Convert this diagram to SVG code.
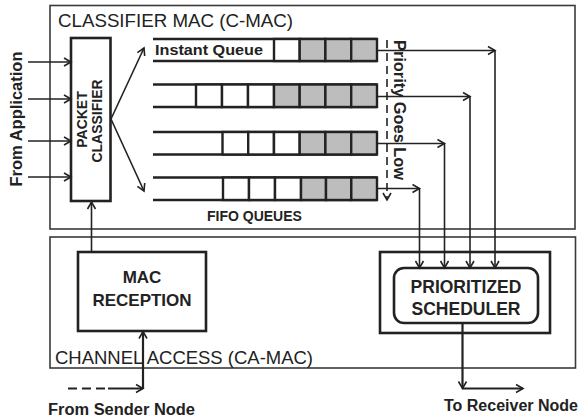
<svg xmlns="http://www.w3.org/2000/svg" width="581" height="420" viewBox="0 0 581 420">
<style>
  .frame { fill: none; stroke: #3a3a3a; stroke-width: 1.6; }
  .thick { fill: #fff; stroke: #222; stroke-width: 2.6; }
  .qline { fill: none; stroke: #222; stroke-width: 2.6; }
  .white { fill: #fff; stroke: #222; stroke-width: 2.4; }
  .gray { fill: #bdbdbd; stroke: #222; stroke-width: 2.4; }
  .conn { fill: none; stroke: #222; stroke-width: 1.6; }
  .conn2 { fill: none; stroke: #222; stroke-width: 2.2; }
  .t { font-family: "Liberation Sans", Arial, sans-serif; fill: #222; }
  .b { font-weight: bold; }
</style>
<defs>
  <marker id="arr" markerUnits="userSpaceOnUse" markerWidth="10" markerHeight="10" refX="7.5" refY="4.5" orient="auto" overflow="visible">
    <path d="M0.5,0.5 L7.5,4.5 L0.5,8.5" fill="none" stroke="#222" stroke-width="1.6"/>
  </marker>
</defs>

<g id="classifier-mac">
  <rect class="frame" x="50" y="5.5" width="525" height="223.5"/>
  <text class="t" x="58" y="26.5" font-size="18.5" textLength="235" lengthAdjust="spacingAndGlyphs">CLASSIFIER MAC (C-MAC)</text>
</g>

<g id="channel-access">
  <rect class="frame" x="50" y="237" width="525.5" height="131"/>
  <text class="t" x="55" y="363.5" font-size="18.5" textLength="258" lengthAdjust="spacingAndGlyphs">CHANNEL ACCESS (CA-MAC)</text>
</g>

<g id="from-application">
  <text class="t b" transform="translate(22,119) rotate(-90)" font-size="17" text-anchor="middle" textLength="135" lengthAdjust="spacingAndGlyphs">From Application</text>
</g>

<g id="packet-classifier">
  <rect class="thick" x="71" y="38" width="39.5" height="163"/>
  <text class="t b" transform="translate(87,119.5) rotate(-90)" font-size="14" text-anchor="middle">PACKET</text>
  <text class="t b" transform="translate(102,121) rotate(-90)" font-size="14" text-anchor="middle">CLASSIFIER</text>
</g>

<g id="queue-instant">
  <path class="qline" d="M153,39 H377 M153,61 H377"/>
  <text class="t b" x="155" y="55" font-size="15" textLength="108" lengthAdjust="spacingAndGlyphs">Instant Queue</text>
  <rect class="white" x="274" y="39" width="25.7" height="22"/>
  <rect class="gray" x="299.7" y="39" width="25.7" height="22"/>
  <rect class="gray" x="325.4" y="39" width="25.8" height="22"/>
  <rect class="gray" x="351.2" y="39" width="25.8" height="22"/>
</g>

<g id="queue-2">
  <path class="qline" d="M153,84.5 H377 M153,107 H377"/>
  <rect class="white" x="196" y="84.5" width="26" height="22.5"/>
  <rect class="white" x="222" y="84.5" width="26" height="22.5"/>
  <rect class="white" x="248" y="84.5" width="26" height="22.5"/>
  <rect class="gray" x="274" y="84.5" width="25.7" height="22.5"/>
  <rect class="gray" x="299.7" y="84.5" width="25.7" height="22.5"/>
  <rect class="gray" x="325.4" y="84.5" width="25.8" height="22.5"/>
  <rect class="gray" x="351.2" y="84.5" width="25.8" height="22.5"/>
</g>

<g id="queue-3">
  <path class="qline" d="M153,132 H377 M153,154.5 H377"/>
  <rect class="white" x="222.5" y="132" width="25.7" height="22.5"/>
  <rect class="white" x="248.2" y="132" width="25.7" height="22.5"/>
  <rect class="white" x="274" y="132" width="25.7" height="22.5"/>
  <rect class="gray" x="299.7" y="132" width="25.7" height="22.5"/>
  <rect class="gray" x="325.4" y="132" width="25.8" height="22.5"/>
  <rect class="gray" x="351.2" y="132" width="25.8" height="22.5"/>
</g>

<g id="queue-4">
  <path class="qline" d="M153,177.5 H377 M153,200 H377"/>
  <rect class="white" x="223" y="177.5" width="26" height="22.5"/>
  <rect class="white" x="249" y="177.5" width="26" height="22.5"/>
  <rect class="white" x="275" y="177.5" width="26" height="22.5"/>
  <rect class="gray" x="301" y="177.5" width="25" height="22.5"/>
  <rect class="gray" x="326" y="177.5" width="25.3" height="22.5"/>
  <rect class="gray" x="351.3" y="177.5" width="25.7" height="22.5"/>
  <text class="t b" x="207" y="221" font-size="14">FIFO QUEUES</text>
</g>

<g id="priority">
  <text class="t b" transform="translate(394,40) rotate(90)" font-size="16" textLength="140" lengthAdjust="spacingAndGlyphs">Priority Goes Low</text>
</g>

<g id="mac-reception">
  <rect class="thick" x="78" y="252" width="128" height="79"/>
  <text class="t b" x="142" y="283" font-size="17" text-anchor="middle">MAC</text>
  <text class="t b" x="142" y="306" font-size="17" text-anchor="middle">RECEPTION</text>
</g>

<g id="scheduler">
  <rect class="thick" x="380" y="252" width="170" height="81"/>
  <rect class="thick" x="394" y="268" width="144" height="55" rx="10"/>
  <text class="t b" x="466" y="293" font-size="17.5" text-anchor="middle">PRIORITIZED</text>
  <text class="t b" x="466" y="315" font-size="17.5" text-anchor="middle">SCHEDULER</text>
</g>

<g id="connectors">
  <line class="conn" x1="28" y1="62" x2="71" y2="62" marker-end="url(#arr)"/>
  <line class="conn" x1="28" y1="99" x2="71" y2="99" marker-end="url(#arr)"/>
  <line class="conn" x1="28" y1="141" x2="71" y2="141" marker-end="url(#arr)"/>
  <line class="conn" x1="28" y1="177" x2="71" y2="177" marker-end="url(#arr)"/>
  <line class="conn" x1="111" y1="119" x2="144" y2="48" marker-end="url(#arr)"/>
  <line class="conn" x1="111" y1="119" x2="144" y2="191" marker-end="url(#arr)"/>
  <line class="conn" x1="91.5" y1="252" x2="91.5" y2="202" marker-end="url(#arr)"/>
  <line class="conn" x1="387" y1="40" x2="387" y2="200" stroke-dasharray="8,5" marker-end="url(#arr)"/>
  <line class="conn" x1="377" y1="50.5" x2="495" y2="50.5" marker-end="url(#arr)"/>
  <line class="conn" x1="495" y1="50.5" x2="495" y2="268" marker-end="url(#arr)"/>
  <line class="conn" x1="377" y1="96.5" x2="470" y2="96.5" marker-end="url(#arr)"/>
  <line class="conn" x1="470" y1="96.5" x2="470" y2="268" marker-end="url(#arr)"/>
  <line class="conn" x1="377" y1="143.5" x2="444.5" y2="143.5" marker-end="url(#arr)"/>
  <line class="conn" x1="444.5" y1="143.5" x2="444.5" y2="268" marker-end="url(#arr)"/>
  <line class="conn" x1="377" y1="188.5" x2="419.5" y2="188.5" marker-end="url(#arr)"/>
  <line class="conn" x1="419.5" y1="188.5" x2="419.5" y2="268" marker-end="url(#arr)"/>
  <line class="conn2" x1="462.5" y1="323" x2="462.5" y2="388.5" marker-end="url(#arr)"/>
  <line class="conn2" x1="462.5" y1="388.5" x2="523" y2="388.5" marker-end="url(#arr)"/>
  <line class="conn2" x1="68" y1="388.5" x2="106" y2="388.5" stroke-dasharray="9,5"/>
  <line class="conn2" x1="108" y1="388.5" x2="143" y2="388.5" marker-end="url(#arr)"/>
  <line class="conn2" x1="143" y1="388.5" x2="143" y2="331.5" marker-end="url(#arr)"/>
</g>

<g id="labels">
  <text class="t b" x="444" y="411" font-size="16" textLength="134" lengthAdjust="spacingAndGlyphs">To Receiver Node</text>
  <text class="t b" x="48" y="415" font-size="16" textLength="147" lengthAdjust="spacingAndGlyphs">From Sender Node</text>
</g>
</svg>
